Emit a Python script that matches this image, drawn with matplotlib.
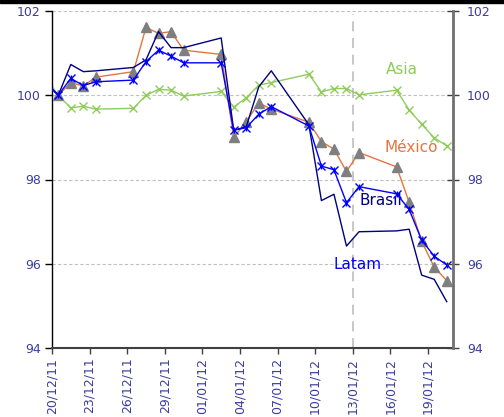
import matplotlib
matplotlib.use("Agg")
import matplotlib.pyplot as plt
from matplotlib.patches import Rectangle
import pandas as pd

dates = ['19/12/11', '20/12/11', '21/12/11', '22/12/11', '23/12/11', '26/12/11', '27/12/11',
         '28/12/11', '29/12/11', '30/12/11', '02/01/12', '03/01/12', '04/01/12', '05/01/12',
         '06/01/12', '09/01/12', '10/01/12', '11/01/12', '12/01/12', '13/01/12', '16/01/12',
         '17/01/12', '18/01/12', '19/01/12', '20/01/12']

asia = [100.42, 100.0, 99.70, 99.74, 99.67, 99.69, 100.0, 100.14, 100.12, 99.98, 100.09,
        99.72, 99.94, 100.24, 100.30, 100.50, 100.08, 100.16, 100.16, 100.01, 100.12,
        99.65, 99.31, 98.99, 98.80]
mexico = [100.3, 100.0, 100.30, 100.22, 100.43, 100.56, 101.61, 101.47, 101.51, 101.07, 100.97,
          99.0, 99.37, 99.82, 99.67, 99.36, 98.90, 98.72, 98.19, 98.64, 98.30,
          97.46, 96.53, 95.92, 95.60]
brasil = [100.3, 100.0, 100.73, 100.56, 100.58, 100.66, 100.84, 101.51, 101.13, 101.13, 101.36,
          99.17, 99.25, 100.2, 100.58, 99.30, 97.50, 97.65, 96.42, 96.76, 96.78,
          96.82, 95.73, 95.63, 95.10]
latam = [100.3, 100.0, 100.40, 100.23, 100.32, 100.36, 100.80, 101.07, 100.93, 100.77, 100.77,
         99.17, 99.23, 99.55, 99.73, 99.27, 98.32, 98.23, 97.45, 97.83, 97.66,
         97.29, 96.56, 96.18, 95.97]

tick_labels = ['20/12/11', '23/12/11', '26/12/11', '29/12/11', '01/01/12', '04/01/12',
               '07/01/12', '10/01/12', '13/01/12', '16/01/12', '19/01/12']
y_ticks = [94, 96, 98, 100, 102]
marker_date = '13/01/12'

start = pd.Timestamp('2011-12-20')
def to_x(d):
    return (pd.to_datetime(d, format='%d/%m/%y') - start).days

x = [to_x(d) + 0.5 for d in dates]
tick_x = [to_x(d) for d in tick_labels]

lab_col = '#3C3C9E'
c_asia = '#8FCC5A'
c_mex = '#E4753F'
c_bra = '#000080'
c_lat = '#0000FF'

fig = plt.figure(figsize=(5.04, 4.17), dpi=100)
ax = fig.add_axes([52/504, 1-348/417, (453-52)/504, (348-11)/417])

for yv in [96, 98, 100, 102]:
    ax.axhline(yv, color='#C0C0C0', lw=0.8, ls=(0, (3, 2)), zorder=0)
ax.plot([to_x(marker_date)]*2, [94, 101.92], color='#BDBDBD', lw=1.2, ls=(0, (6, 4)), zorder=0)

ax.plot(x, asia, color=c_asia, lw=1.0, marker='x', ms=6, mew=1.0, zorder=2)
ax.plot(x, mexico, color=c_mex, lw=1.0, zorder=2)
ax.plot(x, mexico, ls='none', marker='^', ms=7, color='#7F7F7F', zorder=3)
ax.plot(x, brasil, color=c_bra, lw=1.0, zorder=4)
ax.plot(x, latam, color=c_lat, lw=1.0, marker='x', ms=6, mew=1.0, zorder=5)
ax.plot(x, latam, ls='none', marker='|', ms=4, mew=1.0, color=c_lat, zorder=5)

ax.set_xlim(0, 32)
ax.set_ylim(94, 102)
ax.set_yticks(y_ticks)
ax.set_yticklabels([str(v) for v in y_ticks])
ax.set_xticks(tick_x)
ax.set_xticklabels(tick_labels, rotation=90)

ax.tick_params(axis='y', direction='out', length=5, width=1, colors='black',
               labelcolor=lab_col, labelsize=9, pad=3)
ax.tick_params(axis='x', direction='out', length=4, width=1, colors='#404040',
               labelcolor=lab_col, labelsize=9, pad=3)

ax.spines['top'].set_visible(False)
ax.spines['right'].set_visible(False)
ax.spines['left'].set_color('black')
ax.spines['left'].set_linewidth(1.0)
ax.spines['bottom'].set_color('#404040')
ax.spines['bottom'].set_linewidth(1.5)

ax2 = ax.twinx()
ax2.set_ylim(94, 102)
ax2.set_yticks(y_ticks)
ax2.set_yticklabels([str(v) for v in y_ticks])
ax2.tick_params(axis='y', direction='inout', length=8, width=1, colors='#404040',
                labelcolor=lab_col, labelsize=9, pad=6)
for s in ['top', 'left', 'bottom']:
    ax2.spines[s].set_visible(False)
ax2.spines['right'].set_color('#707070')
ax2.spines['right'].set_linewidth(2.0)

ax.text(27.9, 100.62, 'Asia', color=c_asia, fontsize=11, ha='center', va='center')
ax.text(28.7, 98.75, 'México', color=c_mex, fontsize=11, ha='center', va='center')
ax.text(26.25, 97.5, 'Brasil', color=c_bra, fontsize=11, ha='center', va='center')
ax.text(24.4, 95.99, 'Latam', color=c_lat, fontsize=11, ha='center', va='center')

fig.patches.append(Rectangle((0, 1-3/417), 1, 3/417, transform=fig.transFigure,
                             color='black', zorder=10))

fig.savefig('out.png', dpi=100)
